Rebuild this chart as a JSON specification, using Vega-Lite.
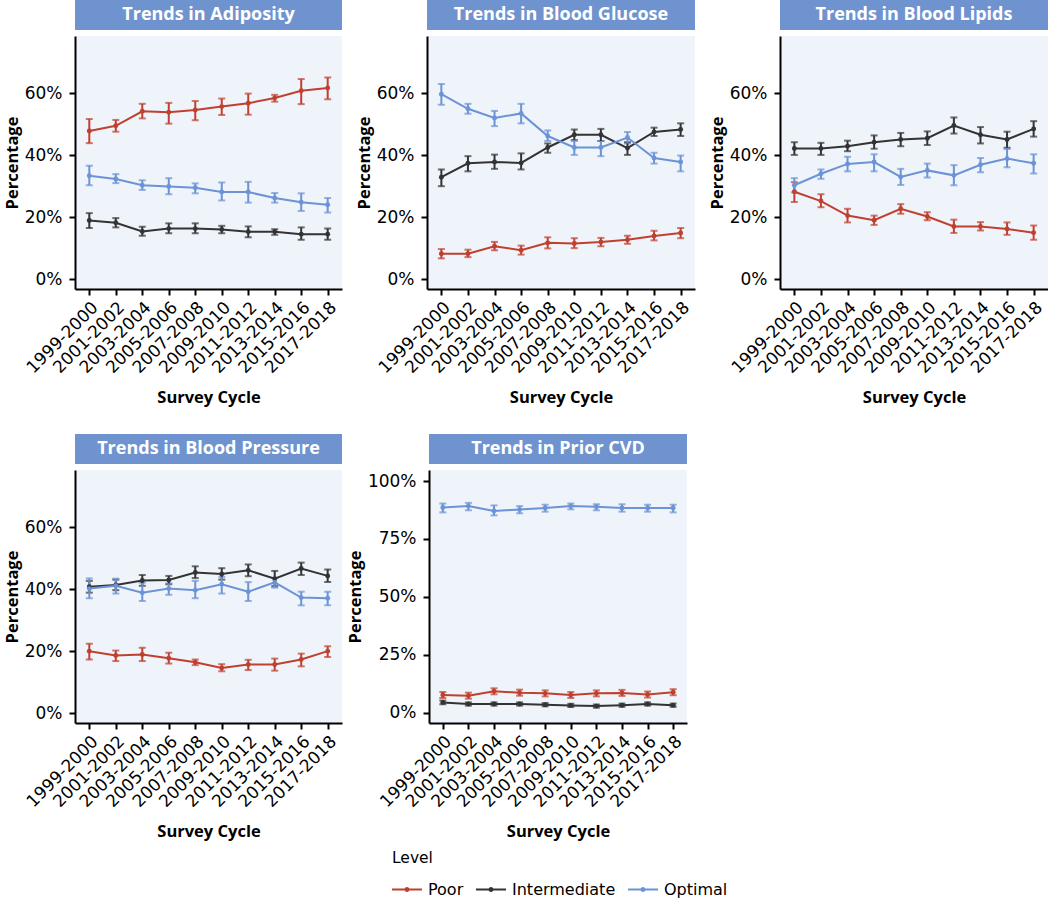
{
"$schema": "https://vega.github.io/schema/vega-lite/v6.json",
"padding": {"left": 4, "top": 0, "right": 0, "bottom": 2},
"background": "white",
"config": {
  "font": "Open Sans",
  "view": {"stroke": null},
  "axis": {"domainColor": "black", "domainWidth": 2, "tickColor": "black", "tickWidth": 2, "tickSize": 6, "labelFont": "DejaVu Sans", "labelFontSize": 17, "labelColor": "black", "titleFont": "Open Sans", "titleFontSize": 16.5, "titleFontWeight": "bold", "titleColor": "black", "grid": false, "labelPadding": 7},
  "axisX": {"labelPadding": 4, "titlePadding": 14},
  "axisY": {"titlePadding": 4}
},
"datasets": {"d": [
{"panel":"Adiposity","cycle":"1999-2000","level":"Poor","value":47.8,"lower":43.9,"upper":51.7},
{"panel":"Adiposity","cycle":"2001-2002","level":"Poor","value":49.5,"lower":47.6,"upper":51.4},
{"panel":"Adiposity","cycle":"2003-2004","level":"Poor","value":54.2,"lower":51.9,"upper":56.6},
{"panel":"Adiposity","cycle":"2005-2006","level":"Poor","value":53.9,"lower":50.2,"upper":56.9},
{"panel":"Adiposity","cycle":"2007-2008","level":"Poor","value":54.6,"lower":51.3,"upper":57.5},
{"panel":"Adiposity","cycle":"2009-2010","level":"Poor","value":55.7,"lower":53.0,"upper":58.3},
{"panel":"Adiposity","cycle":"2011-2012","level":"Poor","value":56.8,"lower":53.1,"upper":59.9},
{"panel":"Adiposity","cycle":"2013-2014","level":"Poor","value":58.5,"lower":57.3,"upper":59.5},
{"panel":"Adiposity","cycle":"2015-2016","level":"Poor","value":60.8,"lower":56.5,"upper":64.6},
{"panel":"Adiposity","cycle":"2017-2018","level":"Poor","value":61.7,"lower":58.1,"upper":65.1},
{"panel":"Adiposity","cycle":"1999-2000","level":"Intermediate","value":18.9,"lower":16.5,"upper":21.3},
{"panel":"Adiposity","cycle":"2001-2002","level":"Intermediate","value":18.2,"lower":16.7,"upper":19.7},
{"panel":"Adiposity","cycle":"2003-2004","level":"Intermediate","value":15.4,"lower":14.0,"upper":16.9},
{"panel":"Adiposity","cycle":"2005-2006","level":"Intermediate","value":16.3,"lower":14.8,"upper":18.0},
{"panel":"Adiposity","cycle":"2007-2008","level":"Intermediate","value":16.3,"lower":14.8,"upper":18.0},
{"panel":"Adiposity","cycle":"2009-2010","level":"Intermediate","value":16.0,"lower":14.8,"upper":17.2},
{"panel":"Adiposity","cycle":"2011-2012","level":"Intermediate","value":15.3,"lower":13.5,"upper":17.0},
{"panel":"Adiposity","cycle":"2013-2014","level":"Intermediate","value":15.3,"lower":14.3,"upper":16.1},
{"panel":"Adiposity","cycle":"2015-2016","level":"Intermediate","value":14.5,"lower":12.7,"upper":16.7},
{"panel":"Adiposity","cycle":"2017-2018","level":"Intermediate","value":14.5,"lower":12.7,"upper":16.3},
{"panel":"Adiposity","cycle":"1999-2000","level":"Optimal","value":33.4,"lower":30.3,"upper":36.6},
{"panel":"Adiposity","cycle":"2001-2002","level":"Optimal","value":32.3,"lower":31.0,"upper":33.9},
{"panel":"Adiposity","cycle":"2003-2004","level":"Optimal","value":30.3,"lower":28.8,"upper":31.9},
{"panel":"Adiposity","cycle":"2005-2006","level":"Optimal","value":29.9,"lower":27.4,"upper":32.6},
{"panel":"Adiposity","cycle":"2007-2008","level":"Optimal","value":29.5,"lower":27.7,"upper":30.9},
{"panel":"Adiposity","cycle":"2009-2010","level":"Optimal","value":28.1,"lower":25.4,"upper":31.2},
{"panel":"Adiposity","cycle":"2011-2012","level":"Optimal","value":28.1,"lower":24.7,"upper":31.4},
{"panel":"Adiposity","cycle":"2013-2014","level":"Optimal","value":26.2,"lower":24.7,"upper":27.8},
{"panel":"Adiposity","cycle":"2015-2016","level":"Optimal","value":24.8,"lower":22.0,"upper":27.7},
{"panel":"Adiposity","cycle":"2017-2018","level":"Optimal","value":24.0,"lower":21.5,"upper":26.2},
{"panel":"Glucose","cycle":"1999-2000","level":"Poor","value":8.2,"lower":6.7,"upper":9.7},
{"panel":"Glucose","cycle":"2001-2002","level":"Poor","value":8.2,"lower":7.1,"upper":9.5},
{"panel":"Glucose","cycle":"2003-2004","level":"Poor","value":10.6,"lower":9.3,"upper":12.0},
{"panel":"Glucose","cycle":"2005-2006","level":"Poor","value":9.3,"lower":7.9,"upper":10.8},
{"panel":"Glucose","cycle":"2007-2008","level":"Poor","value":11.7,"lower":9.9,"upper":13.5},
{"panel":"Glucose","cycle":"2009-2010","level":"Poor","value":11.5,"lower":10.0,"upper":13.2},
{"panel":"Glucose","cycle":"2011-2012","level":"Poor","value":12.0,"lower":10.6,"upper":13.3},
{"panel":"Glucose","cycle":"2013-2014","level":"Poor","value":12.7,"lower":11.4,"upper":14.0},
{"panel":"Glucose","cycle":"2015-2016","level":"Poor","value":13.9,"lower":12.5,"upper":15.6},
{"panel":"Glucose","cycle":"2017-2018","level":"Poor","value":14.9,"lower":13.2,"upper":16.5},
{"panel":"Glucose","cycle":"1999-2000","level":"Intermediate","value":32.9,"lower":30.0,"upper":35.4},
{"panel":"Glucose","cycle":"2001-2002","level":"Intermediate","value":37.4,"lower":34.8,"upper":39.7},
{"panel":"Glucose","cycle":"2003-2004","level":"Intermediate","value":37.8,"lower":35.6,"upper":40.2},
{"panel":"Glucose","cycle":"2005-2006","level":"Intermediate","value":37.5,"lower":35.4,"upper":40.6},
{"panel":"Glucose","cycle":"2007-2008","level":"Intermediate","value":42.5,"lower":40.8,"upper":43.8},
{"panel":"Glucose","cycle":"2009-2010","level":"Intermediate","value":46.6,"lower":44.9,"upper":48.3},
{"panel":"Glucose","cycle":"2011-2012","level":"Intermediate","value":46.6,"lower":44.6,"upper":48.5},
{"panel":"Glucose","cycle":"2013-2014","level":"Intermediate","value":42.3,"lower":40.1,"upper":44.2},
{"panel":"Glucose","cycle":"2015-2016","level":"Intermediate","value":47.5,"lower":46.2,"upper":48.9},
{"panel":"Glucose","cycle":"2017-2018","level":"Intermediate","value":48.3,"lower":46.2,"upper":50.3},
{"panel":"Glucose","cycle":"1999-2000","level":"Optimal","value":59.7,"lower":56.3,"upper":63.0},
{"panel":"Glucose","cycle":"2001-2002","level":"Optimal","value":55.0,"lower":53.4,"upper":56.6},
{"panel":"Glucose","cycle":"2003-2004","level":"Optimal","value":52.0,"lower":49.4,"upper":54.3},
{"panel":"Glucose","cycle":"2005-2006","level":"Optimal","value":53.5,"lower":50.3,"upper":56.6},
{"panel":"Glucose","cycle":"2007-2008","level":"Optimal","value":46.2,"lower":44.6,"upper":48.0},
{"panel":"Glucose","cycle":"2009-2010","level":"Optimal","value":42.5,"lower":40.1,"upper":44.6},
{"panel":"Glucose","cycle":"2011-2012","level":"Optimal","value":42.5,"lower":39.7,"upper":44.6},
{"panel":"Glucose","cycle":"2013-2014","level":"Optimal","value":45.7,"lower":43.8,"upper":47.5},
{"panel":"Glucose","cycle":"2015-2016","level":"Optimal","value":39.1,"lower":37.3,"upper":40.8},
{"panel":"Glucose","cycle":"2017-2018","level":"Optimal","value":37.8,"lower":34.8,"upper":39.9},
{"panel":"Lipids","cycle":"1999-2000","level":"Poor","value":28.2,"lower":24.9,"upper":31.3},
{"panel":"Lipids","cycle":"2001-2002","level":"Poor","value":25.2,"lower":23.2,"upper":27.4},
{"panel":"Lipids","cycle":"2003-2004","level":"Poor","value":20.5,"lower":18.3,"upper":22.7},
{"panel":"Lipids","cycle":"2005-2006","level":"Poor","value":19.0,"lower":17.5,"upper":20.5},
{"panel":"Lipids","cycle":"2007-2008","level":"Poor","value":22.7,"lower":21.1,"upper":24.2},
{"panel":"Lipids","cycle":"2009-2010","level":"Poor","value":20.2,"lower":19.0,"upper":21.6},
{"panel":"Lipids","cycle":"2011-2012","level":"Poor","value":17.0,"lower":14.9,"upper":19.2},
{"panel":"Lipids","cycle":"2013-2014","level":"Poor","value":17.0,"lower":15.7,"upper":18.4},
{"panel":"Lipids","cycle":"2015-2016","level":"Poor","value":16.2,"lower":14.3,"upper":18.3},
{"panel":"Lipids","cycle":"2017-2018","level":"Poor","value":15.0,"lower":12.7,"upper":17.3},
{"panel":"Lipids","cycle":"1999-2000","level":"Intermediate","value":42.2,"lower":40.1,"upper":44.2},
{"panel":"Lipids","cycle":"2001-2002","level":"Intermediate","value":42.2,"lower":40.1,"upper":44.0},
{"panel":"Lipids","cycle":"2003-2004","level":"Intermediate","value":42.9,"lower":41.3,"upper":44.7},
{"panel":"Lipids","cycle":"2005-2006","level":"Intermediate","value":44.2,"lower":42.1,"upper":46.4},
{"panel":"Lipids","cycle":"2007-2008","level":"Intermediate","value":45.1,"lower":42.9,"upper":47.2},
{"panel":"Lipids","cycle":"2009-2010","level":"Intermediate","value":45.5,"lower":43.3,"upper":47.7},
{"panel":"Lipids","cycle":"2011-2012","level":"Intermediate","value":49.6,"lower":47.0,"upper":52.2},
{"panel":"Lipids","cycle":"2013-2014","level":"Intermediate","value":46.6,"lower":43.8,"upper":49.1},
{"panel":"Lipids","cycle":"2015-2016","level":"Intermediate","value":45.1,"lower":42.4,"upper":47.6},
{"panel":"Lipids","cycle":"2017-2018","level":"Intermediate","value":48.5,"lower":46.0,"upper":51.0},
{"panel":"Lipids","cycle":"1999-2000","level":"Optimal","value":30.3,"lower":28.0,"upper":32.6},
{"panel":"Lipids","cycle":"2001-2002","level":"Optimal","value":34.0,"lower":32.4,"upper":35.4},
{"panel":"Lipids","cycle":"2003-2004","level":"Optimal","value":37.2,"lower":34.8,"upper":39.5},
{"panel":"Lipids","cycle":"2005-2006","level":"Optimal","value":37.8,"lower":34.8,"upper":40.3},
{"panel":"Lipids","cycle":"2007-2008","level":"Optimal","value":33.0,"lower":30.4,"upper":35.6},
{"panel":"Lipids","cycle":"2009-2010","level":"Optimal","value":35.1,"lower":32.8,"upper":37.3},
{"panel":"Lipids","cycle":"2011-2012","level":"Optimal","value":33.5,"lower":30.3,"upper":36.8},
{"panel":"Lipids","cycle":"2013-2014","level":"Optimal","value":36.9,"lower":34.5,"upper":39.1},
{"panel":"Lipids","cycle":"2015-2016","level":"Optimal","value":38.9,"lower":36.1,"upper":42.0},
{"panel":"Lipids","cycle":"2017-2018","level":"Optimal","value":37.4,"lower":34.1,"upper":40.3},
{"panel":"Pressure","cycle":"1999-2000","level":"Poor","value":20.0,"lower":17.3,"upper":22.4},
{"panel":"Pressure","cycle":"2001-2002","level":"Poor","value":18.6,"lower":16.8,"upper":20.2},
{"panel":"Pressure","cycle":"2003-2004","level":"Poor","value":18.9,"lower":16.8,"upper":21.1},
{"panel":"Pressure","cycle":"2005-2006","level":"Poor","value":17.7,"lower":16.0,"upper":19.5},
{"panel":"Pressure","cycle":"2007-2008","level":"Poor","value":16.4,"lower":15.5,"upper":17.3},
{"panel":"Pressure","cycle":"2009-2010","level":"Poor","value":14.6,"lower":13.5,"upper":15.8},
{"panel":"Pressure","cycle":"2011-2012","level":"Poor","value":15.7,"lower":13.9,"upper":17.2},
{"panel":"Pressure","cycle":"2013-2014","level":"Poor","value":15.7,"lower":13.7,"upper":17.6},
{"panel":"Pressure","cycle":"2015-2016","level":"Poor","value":17.3,"lower":15.1,"upper":19.2},
{"panel":"Pressure","cycle":"2017-2018","level":"Poor","value":20.0,"lower":18.1,"upper":21.6},
{"panel":"Pressure","cycle":"1999-2000","level":"Intermediate","value":40.8,"lower":38.9,"upper":42.7},
{"panel":"Pressure","cycle":"2001-2002","level":"Intermediate","value":41.4,"lower":39.7,"upper":43.1},
{"panel":"Pressure","cycle":"2003-2004","level":"Intermediate","value":42.8,"lower":41.1,"upper":44.6},
{"panel":"Pressure","cycle":"2005-2006","level":"Intermediate","value":43.0,"lower":41.6,"upper":44.3},
{"panel":"Pressure","cycle":"2007-2008","level":"Intermediate","value":45.4,"lower":43.6,"upper":47.4},
{"panel":"Pressure","cycle":"2009-2010","level":"Intermediate","value":44.9,"lower":43.1,"upper":46.8},
{"panel":"Pressure","cycle":"2011-2012","level":"Intermediate","value":46.1,"lower":44.2,"upper":48.0},
{"panel":"Pressure","cycle":"2013-2014","level":"Intermediate","value":43.4,"lower":41.0,"upper":45.9},
{"panel":"Pressure","cycle":"2015-2016","level":"Intermediate","value":46.7,"lower":44.6,"upper":48.6},
{"panel":"Pressure","cycle":"2017-2018","level":"Intermediate","value":44.3,"lower":42.3,"upper":46.4},
{"panel":"Pressure","cycle":"1999-2000","level":"Optimal","value":40.2,"lower":37.1,"upper":43.5},
{"panel":"Pressure","cycle":"2001-2002","level":"Optimal","value":41.1,"lower":38.6,"upper":43.4},
{"panel":"Pressure","cycle":"2003-2004","level":"Optimal","value":38.9,"lower":36.2,"upper":42.1},
{"panel":"Pressure","cycle":"2005-2006","level":"Optimal","value":40.2,"lower":38.2,"upper":41.9},
{"panel":"Pressure","cycle":"2007-2008","level":"Optimal","value":39.7,"lower":37.1,"upper":42.7},
{"panel":"Pressure","cycle":"2009-2010","level":"Optimal","value":41.6,"lower":38.6,"upper":44.0},
{"panel":"Pressure","cycle":"2011-2012","level":"Optimal","value":39.2,"lower":36.2,"upper":42.3},
{"panel":"Pressure","cycle":"2013-2014","level":"Optimal","value":42.2,"lower":40.5,"upper":43.6},
{"panel":"Pressure","cycle":"2015-2016","level":"Optimal","value":37.3,"lower":34.8,"upper":39.2},
{"panel":"Pressure","cycle":"2017-2018","level":"Optimal","value":37.1,"lower":34.8,"upper":39.2},
{"panel":"CVD","cycle":"1999-2000","level":"Poor","value":7.6,"lower":6.3,"upper":8.9},
{"panel":"CVD","cycle":"2001-2002","level":"Poor","value":7.3,"lower":6.0,"upper":8.6},
{"panel":"CVD","cycle":"2003-2004","level":"Poor","value":9.2,"lower":7.9,"upper":10.5},
{"panel":"CVD","cycle":"2005-2006","level":"Poor","value":8.6,"lower":7.3,"upper":9.9},
{"panel":"CVD","cycle":"2007-2008","level":"Poor","value":8.3,"lower":7.0,"upper":9.6},
{"panel":"CVD","cycle":"2009-2010","level":"Poor","value":7.6,"lower":6.3,"upper":8.9},
{"panel":"CVD","cycle":"2011-2012","level":"Poor","value":8.3,"lower":7.0,"upper":9.6},
{"panel":"CVD","cycle":"2013-2014","level":"Poor","value":8.5,"lower":7.2,"upper":9.8},
{"panel":"CVD","cycle":"2015-2016","level":"Poor","value":7.8,"lower":6.5,"upper":9.1},
{"panel":"CVD","cycle":"2017-2018","level":"Poor","value":8.8,"lower":7.5,"upper":10.1},
{"panel":"CVD","cycle":"1999-2000","level":"Intermediate","value":4.4,"lower":3.6,"upper":5.2},
{"panel":"CVD","cycle":"2001-2002","level":"Intermediate","value":3.7,"lower":3.0,"upper":4.4},
{"panel":"CVD","cycle":"2003-2004","level":"Intermediate","value":3.7,"lower":3.0,"upper":4.4},
{"panel":"CVD","cycle":"2005-2006","level":"Intermediate","value":3.7,"lower":3.0,"upper":4.4},
{"panel":"CVD","cycle":"2007-2008","level":"Intermediate","value":3.4,"lower":2.7,"upper":4.1},
{"panel":"CVD","cycle":"2009-2010","level":"Intermediate","value":3.1,"lower":2.4,"upper":3.8},
{"panel":"CVD","cycle":"2011-2012","level":"Intermediate","value":2.8,"lower":2.1,"upper":3.5},
{"panel":"CVD","cycle":"2013-2014","level":"Intermediate","value":3.2,"lower":2.5,"upper":3.9},
{"panel":"CVD","cycle":"2015-2016","level":"Intermediate","value":3.7,"lower":3.0,"upper":4.4},
{"panel":"CVD","cycle":"2017-2018","level":"Intermediate","value":3.2,"lower":2.5,"upper":3.9},
{"panel":"CVD","cycle":"1999-2000","level":"Optimal","value":88.6,"lower":86.5,"upper":90.3},
{"panel":"CVD","cycle":"2001-2002","level":"Optimal","value":89.2,"lower":87.4,"upper":90.6},
{"panel":"CVD","cycle":"2003-2004","level":"Optimal","value":87.1,"lower":85.2,"upper":89.5},
{"panel":"CVD","cycle":"2005-2006","level":"Optimal","value":87.7,"lower":86.1,"upper":89.2},
{"panel":"CVD","cycle":"2007-2008","level":"Optimal","value":88.4,"lower":86.8,"upper":89.8},
{"panel":"CVD","cycle":"2009-2010","level":"Optimal","value":89.2,"lower":87.8,"upper":90.3},
{"panel":"CVD","cycle":"2011-2012","level":"Optimal","value":88.9,"lower":87.4,"upper":90.0},
{"panel":"CVD","cycle":"2013-2014","level":"Optimal","value":88.4,"lower":86.8,"upper":90.0},
{"panel":"CVD","cycle":"2015-2016","level":"Optimal","value":88.4,"lower":86.8,"upper":89.8},
{"panel":"CVD","cycle":"2017-2018","level":"Optimal","value":88.4,"lower":86.5,"upper":89.8}
]},
"spacing": 27,
"vconcat": [
{"spacing": 14, "hconcat": [
 {"spacing": 6, "vconcat": [
  {"width": 267, "height": 30, "view": {"fill": "#6f93cf", "stroke": null}, "data": {"values": [{"title": "Trends in Adiposity"}]}, "mark": {"type": "text", "color": "white", "fontWeight": "bold", "fontSize": 18}, "encoding": {"text": {"field": "title"}}},
  {"width": 267, "height": 253, "view": {"fill": "#eff3fa", "stroke": null}, "data": {"name": "d"}, "transform": [{"filter": "datum.panel === 'Adiposity'"}],
   "encoding": {"x": {"field": "cycle", "type": "ordinal", "scale": {"type": "point", "padding": 0.54}, "title": "Survey Cycle", "axis": {"labelAngle": -45}},
     "color": {"field": "level", "type": "nominal", "scale": {"domain": ["Poor", "Intermediate", "Optimal"], "range": ["#c0402f", "#333333", "#6b93d6"]},
       "legend": {"title": "Level", "orient": "none", "direction": "horizontal", "legendX": 317, "legendY": 851, "titleFont": "DejaVu Sans", "titleFontSize": 15.5, "titleFontWeight": "normal", "titleColor": "black", "labelFont": "DejaVu Sans", "labelFontSize": 16, "labelColor": "black", "symbolType": "M-1,-0.07H1V0.07H-1Z M-0.17,0A0.17,0.17 0 1,1 0.17,0A0.17,0.17 0 1,1 -0.17,0Z", "symbolSize": 900, "symbolStrokeWidth": 0, "columnPadding": 12, "labelOffset": 6, "titlePadding": 8,
         "encode": {"symbols": {"update": {"fill": {"scale": "color", "field": "value"}, "stroke": {"value": "transparent"}, "opacity": {"value": 1}}}}}}},
   "layer": [
    {"mark": {"type": "errorbar", "thickness": 2, "ticks": {"size": 7, "thickness": 2}}, "encoding": {"y": {"field": "lower", "type": "quantitative", "title": "Percentage", "scale": {"domain": [-3.2, 78.5], "nice": false, "zero": false}, "axis": {"values": [0, 20, 40, 60], "labelExpr": "datum.value + '%'"}}, "y2": {"field": "upper"}}},
    {"mark": {"type": "line", "strokeWidth": 2}, "encoding": {"y": {"field": "value", "type": "quantitative", "title": "Percentage"}}},
    {"mark": {"type": "point", "filled": true, "size": 24, "opacity": 1}, "encoding": {"y": {"field": "value", "type": "quantitative", "title": "Percentage"}}}
   ]}
 ]},
 {"spacing": 6, "vconcat": [
  {"width": 268, "height": 30, "view": {"fill": "#6f93cf", "stroke": null}, "data": {"values": [{"title": "Trends in Blood Glucose"}]}, "mark": {"type": "text", "color": "white", "fontWeight": "bold", "fontSize": 18}, "encoding": {"text": {"field": "title"}}},
  {"width": 268, "height": 253, "view": {"fill": "#eff3fa", "stroke": null}, "data": {"name": "d"}, "transform": [{"filter": "datum.panel === 'Glucose'"}],
   "encoding": {"x": {"field": "cycle", "type": "ordinal", "scale": {"type": "point", "padding": 0.54}, "title": "Survey Cycle", "axis": {"labelAngle": -45}},
     "color": {"field": "level", "type": "nominal", "scale": {"domain": ["Poor", "Intermediate", "Optimal"], "range": ["#c0402f", "#333333", "#6b93d6"]}}},
   "layer": [
    {"mark": {"type": "errorbar", "thickness": 2, "ticks": {"size": 7, "thickness": 2}}, "encoding": {"y": {"field": "lower", "type": "quantitative", "title": "Percentage", "scale": {"domain": [-3.2, 78.5], "nice": false, "zero": false}, "axis": {"values": [0, 20, 40, 60], "labelExpr": "datum.value + '%'"}}, "y2": {"field": "upper"}}},
    {"mark": {"type": "line", "strokeWidth": 2}, "encoding": {"y": {"field": "value", "type": "quantitative", "title": "Percentage"}}},
    {"mark": {"type": "point", "filled": true, "size": 24, "opacity": 1}, "encoding": {"y": {"field": "value", "type": "quantitative", "title": "Percentage"}}}
   ]}
 ]},
 {"spacing": 6, "vconcat": [
  {"width": 268, "height": 30, "view": {"fill": "#6f93cf", "stroke": null}, "data": {"values": [{"title": "Trends in Blood Lipids"}]}, "mark": {"type": "text", "color": "white", "fontWeight": "bold", "fontSize": 18}, "encoding": {"text": {"field": "title"}}},
  {"width": 268, "height": 253, "view": {"fill": "#eff3fa", "stroke": null}, "data": {"name": "d"}, "transform": [{"filter": "datum.panel === 'Lipids'"}],
   "encoding": {"x": {"field": "cycle", "type": "ordinal", "scale": {"type": "point", "padding": 0.54}, "title": "Survey Cycle", "axis": {"labelAngle": -45}},
     "color": {"field": "level", "type": "nominal", "scale": {"domain": ["Poor", "Intermediate", "Optimal"], "range": ["#c0402f", "#333333", "#6b93d6"]}}},
   "layer": [
    {"mark": {"type": "errorbar", "thickness": 2, "ticks": {"size": 7, "thickness": 2}}, "encoding": {"y": {"field": "lower", "type": "quantitative", "title": "Percentage", "scale": {"domain": [-3.2, 78.5], "nice": false, "zero": false}, "axis": {"values": [0, 20, 40, 60], "labelExpr": "datum.value + '%'"}}, "y2": {"field": "upper"}}},
    {"mark": {"type": "line", "strokeWidth": 2}, "encoding": {"y": {"field": "value", "type": "quantitative", "title": "Percentage"}}},
    {"mark": {"type": "point", "filled": true, "size": 24, "opacity": 1}, "encoding": {"y": {"field": "value", "type": "quantitative", "title": "Percentage"}}}
   ]}
 ]}
]},
{"spacing": 5, "hconcat": [
 {"spacing": 6, "vconcat": [
  {"width": 267, "height": 30, "view": {"fill": "#6f93cf", "stroke": null}, "data": {"values": [{"title": "Trends in Blood Pressure"}]}, "mark": {"type": "text", "color": "white", "fontWeight": "bold", "fontSize": 18}, "encoding": {"text": {"field": "title"}}},
  {"width": 267, "height": 253, "view": {"fill": "#eff3fa", "stroke": null}, "data": {"name": "d"}, "transform": [{"filter": "datum.panel === 'Pressure'"}],
   "encoding": {"x": {"field": "cycle", "type": "ordinal", "scale": {"type": "point", "padding": 0.54}, "title": "Survey Cycle", "axis": {"labelAngle": -45}},
     "color": {"field": "level", "type": "nominal", "scale": {"domain": ["Poor", "Intermediate", "Optimal"], "range": ["#c0402f", "#333333", "#6b93d6"]}}},
   "layer": [
    {"mark": {"type": "errorbar", "thickness": 2, "ticks": {"size": 7, "thickness": 2}}, "encoding": {"y": {"field": "lower", "type": "quantitative", "title": "Percentage", "scale": {"domain": [-3.2, 78.5], "nice": false, "zero": false}, "axis": {"values": [0, 20, 40, 60], "labelExpr": "datum.value + '%'"}}, "y2": {"field": "upper"}}},
    {"mark": {"type": "line", "strokeWidth": 2}, "encoding": {"y": {"field": "value", "type": "quantitative", "title": "Percentage"}}},
    {"mark": {"type": "point", "filled": true, "size": 24, "opacity": 1}, "encoding": {"y": {"field": "value", "type": "quantitative", "title": "Percentage"}}}
   ]}
 ]},
 {"spacing": 6, "vconcat": [
  {"width": 258, "height": 30, "view": {"fill": "#6f93cf", "stroke": null}, "data": {"values": [{"title": "Trends in Prior CVD"}]}, "mark": {"type": "text", "color": "white", "fontWeight": "bold", "fontSize": 18}, "encoding": {"text": {"field": "title"}}},
  {"width": 258, "height": 253, "view": {"fill": "#eff3fa", "stroke": null}, "data": {"name": "d"}, "transform": [{"filter": "datum.panel === 'CVD'"}],
   "encoding": {"x": {"field": "cycle", "type": "ordinal", "scale": {"type": "point", "padding": 0.54}, "title": "Survey Cycle", "axis": {"labelAngle": -45}},
     "color": {"field": "level", "type": "nominal", "scale": {"domain": ["Poor", "Intermediate", "Optimal"], "range": ["#c0402f", "#333333", "#6b93d6"]}}},
   "layer": [
    {"mark": {"type": "errorbar", "thickness": 2, "ticks": {"size": 7, "thickness": 2}}, "encoding": {"y": {"field": "lower", "type": "quantitative", "title": "Percentage", "scale": {"domain": [-4.5, 104.8], "nice": false, "zero": false}, "axis": {"values": [0, 25, 50, 75, 100], "labelExpr": "datum.value + '%'"}}, "y2": {"field": "upper"}}},
    {"mark": {"type": "line", "strokeWidth": 2}, "encoding": {"y": {"field": "value", "type": "quantitative", "title": "Percentage"}}},
    {"mark": {"type": "point", "filled": true, "size": 24, "opacity": 1}, "encoding": {"y": {"field": "value", "type": "quantitative", "title": "Percentage"}}}
   ]}
 ]}
]}
]
}
